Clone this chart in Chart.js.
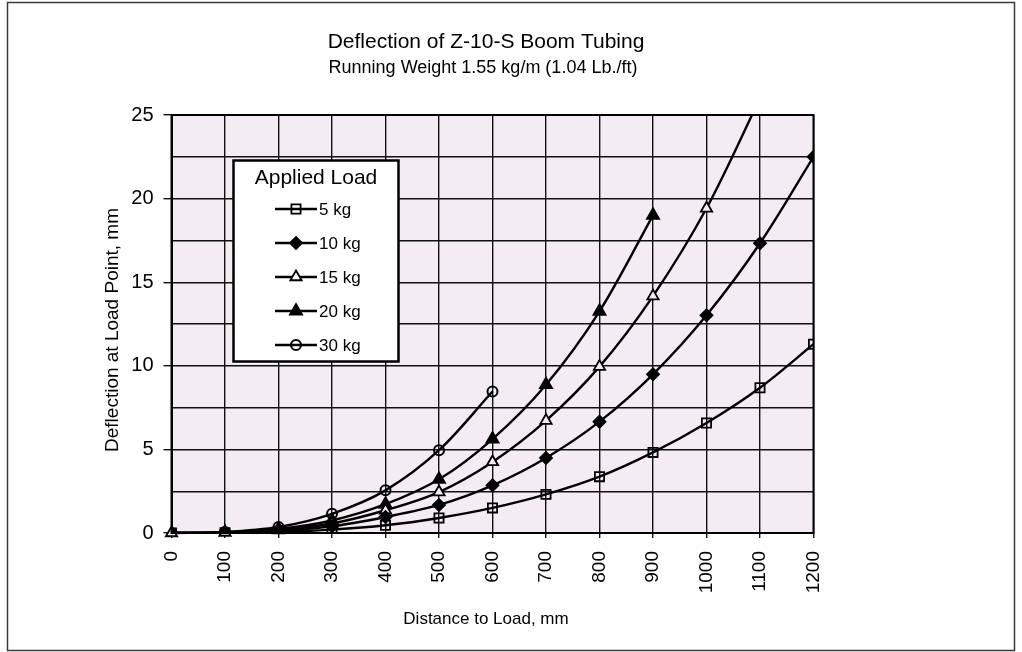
<!DOCTYPE html>
<html>
<head>
<meta charset="utf-8">
<title>Deflection of Z-10-S Boom Tubing</title>
<script src="https://cdn.jsdelivr.net/npm/chart.js"></script>
<style>
  html, body { margin: 0; padding: 0; background: #fff; }
  canvas { display: block; }
</style>
</head>
<body>
<canvas id="deflection" width="1022" height="652"></canvas>
<script>
// distance to load, mm
var distances = [0, 100, 200, 300, 400, 500, 600, 700, 800, 900, 1000, 1100, 1200];

// deflection at load point, mm
var load5  = [0, 0.01, 0.06, 0.2, 0.46, 0.9, 1.5, 2.31, 3.37, 4.82, 6.58, 8.69, 11.29];
var load10 = [0, 0.02, 0.12, 0.4, 0.96, 1.68, 2.85, 4.49, 6.66, 9.49, 13.02, 17.33, 22.5];
var load15 = [0, 0.03, 0.18, 0.57, 1.36, 2.45, 4.25, 6.72, 9.95, 14.17, 19.42, 26.0];
var load20 = [0, 0.04, 0.24, 0.75, 1.72, 3.21, 5.62, 8.87, 13.26, 19.0];
var load30 = [0, 0.06, 0.36, 1.15, 2.55, 4.95, 8.46];

var seriesNames = ['5 kg', '10 kg', '15 kg', '20 kg', '30 kg'];
var yTicks = [0, 5, 10, 15, 20, 25];

var plotBg = '#f3edf3';
var fontFamily = "'Liberation Sans', Arial, Helvetica, sans-serif";

Chart.defaults.font.family = fontFamily;
Chart.defaults.color = '#000';

function pts(values) {
	return values.map(function (v, i) { return { x: distances[i], y: v }; });
}

function series(label, values, style, radius, filled, extra) {
	var ds = {
		label: label,
		data: pts(values),
		borderColor: '#000',
		borderWidth: 2.4,
		tension: 0.33,
		pointStyle: style,
		pointRadius: radius,
		pointHoverRadius: radius,
		pointBorderColor: '#000',
		pointBorderWidth: 1.8,
		pointBackgroundColor: filled
	};
	for (var k in extra) ds[k] = extra[k];
	return ds;
}

var datasets = [
	series(seriesNames[0], load5, 'rect', 6.5, 'rgba(0,0,0,0)'),
	series(seriesNames[1], load10, 'rectRot', 6, '#000'),
	series(seriesNames[2], load15, 'triangle', 6.5, plotBg, { clip: { left: 10, right: 10, bottom: 10, top: 0 } }),
	series(seriesNames[3], load20, 'triangle', 7, '#000'),
	series(seriesNames[4], load30, 'circle', 5, 'rgba(0,0,0,0)', { pointBorderWidth: 2 })
];

// draw a marker like the chart does, for the legend
function marker(ctx, ds, x, y) {
	var r = ds.pointRadius;
	ctx.save();
	ctx.fillStyle = ds.pointBackgroundColor === plotBg ? '#fff' : ds.pointBackgroundColor;
	ctx.strokeStyle = '#000';
	ctx.lineWidth = ds.pointBorderWidth;
	ctx.beginPath();
	if (ds.pointStyle === 'rect') {
		var s = r * Math.SQRT1_2 * 2;
		ctx.rect(x - s / 2, y - s / 2, s, s);
	} else if (ds.pointStyle === 'rectRot') {
		ctx.moveTo(x, y - r); ctx.lineTo(x + r, y); ctx.lineTo(x, y + r); ctx.lineTo(x - r, y); ctx.closePath();
	} else if (ds.pointStyle === 'triangle') {
		ctx.moveTo(x, y - r);
		ctx.lineTo(x + r * Math.sin(Math.PI * 2 / 3), y - r * Math.cos(Math.PI * 2 / 3));
		ctx.lineTo(x - r * Math.sin(Math.PI * 2 / 3), y - r * Math.cos(Math.PI * 2 / 3));
		ctx.closePath();
	} else {
		ctx.arc(x, y, r, 0, Math.PI * 2);
	}
	ctx.fill();
	ctx.stroke();
	ctx.restore();
}

var decorations = {
	id: 'decorations',
	beforeDraw: function (chart) {
		var ctx = chart.ctx, a = chart.chartArea;
		ctx.save();
		ctx.fillStyle = '#fff';
		ctx.fillRect(0, 0, chart.width, chart.height);
		ctx.strokeStyle = '#3a3a3a';
		ctx.lineWidth = 1.5;
		ctx.strokeRect(7.5, 2.5, 1007, 648);
		ctx.fillStyle = plotBg;
		ctx.fillRect(a.left, a.top, a.right - a.left, a.bottom - a.top);
		ctx.fillStyle = '#000';
		ctx.textAlign = 'center';
		ctx.textBaseline = 'alphabetic';
		ctx.font = '21px ' + fontFamily;
		ctx.fillText('Deflection of Z-10-S Boom Tubing', 486, 48);
		ctx.font = '18px ' + fontFamily;
		ctx.fillText('Running Weight 1.55 kg/m (1.04 Lb./ft)', 483, 73);
		// axis titles
		ctx.textBaseline = 'middle';
		ctx.font = '17px ' + fontFamily;
		ctx.fillText('Distance to Load, mm', 486, 619);
		ctx.translate(113, 330);
		ctx.rotate(-Math.PI / 2);
		ctx.font = '19px ' + fontFamily;
		ctx.fillText('Deflection at Load Point, mm', 0, 0);
		ctx.restore();
	},
	afterDatasetsDraw: function (chart) {
		var ctx = chart.ctx, a = chart.chartArea;
		ctx.save();
		ctx.strokeStyle = '#000';
		ctx.lineWidth = 2;
		ctx.strokeRect(a.left, a.top, a.right - a.left, a.bottom - a.top);
		ctx.restore();
	},
	afterDraw: function (chart) {
		var ctx = chart.ctx;
		ctx.save();
		ctx.fillStyle = '#fff';
		ctx.fillRect(233.5, 160.5, 165, 201);
		ctx.strokeStyle = '#000';
		ctx.lineWidth = 2.5;
		ctx.strokeRect(233.5, 160.5, 165, 201);
		ctx.fillStyle = '#000';
		ctx.textAlign = 'center';
		ctx.textBaseline = 'middle';
		ctx.font = '21px ' + fontFamily;
		ctx.fillText('Applied Load', 316, 178);
		ctx.font = '17px ' + fontFamily;
		ctx.textAlign = 'left';
		chart.data.datasets.forEach(function (ds, i) {
			var y = 209 + i * 34;
			ctx.strokeStyle = '#000';
			ctx.lineWidth = 2.4;
			ctx.beginPath();
			ctx.moveTo(275, y);
			ctx.lineTo(317, y);
			ctx.stroke();
			marker(ctx, ds, 296, y);
			ctx.fillStyle = '#000';
			ctx.fillText(ds.label, 319, y + 1);
		});
		ctx.restore();
	}
};

new Chart(document.getElementById('deflection'), {
	type: 'line',
	data: { datasets: datasets },
	options: {
		responsive: false,
		animation: false,
		events: [],
		layout: { padding: { left: 0, top: 115, right: 208.5, bottom: 0 } },
		plugins: {
			legend: { display: false },
			title: { display: false },
			tooltip: { enabled: false }
		},
		scales: {
			x: {
				type: 'linear',
				min: distances[0],
				max: distances[distances.length - 1],
				afterFit: function (scale) { scale.height = 119; },
				afterBuildTicks: function (scale) {
					scale.ticks = distances.map(function (d) { return { value: d }; });
				},
				ticks: {
					minRotation: 90,
					maxRotation: 90,
					padding: 13,
					autoSkip: false,
					font: { size: 19 },
					callback: function (v) { return String(v); }
				},
				grid: { color: '#111', lineWidth: 1.4, tickLength: 5, tickColor: '#111' },
				border: { color: '#000', width: 2 }
			},
			y: {
				min: yTicks[0],
				max: yTicks[yTicks.length - 1],
				afterFit: function (scale) { scale.width = 171.5; },
				ticks: {
					stepSize: 2.5,
					padding: 10,
					font: { size: 20 },
					callback: function (v) { return yTicks.indexOf(v) >= 0 ? v : ''; }
				},
				grid: {
					color: '#111',
					lineWidth: 1.4,
					tickLength: 8,
					tickColor: function (c) { return yTicks.indexOf(c.tick.value) >= 0 ? '#111' : 'rgba(0,0,0,0)'; }
				},
				border: { color: '#000', width: 2 }
			}
		}
	},
	plugins: [decorations]
});
</script>
</body>
</html>
